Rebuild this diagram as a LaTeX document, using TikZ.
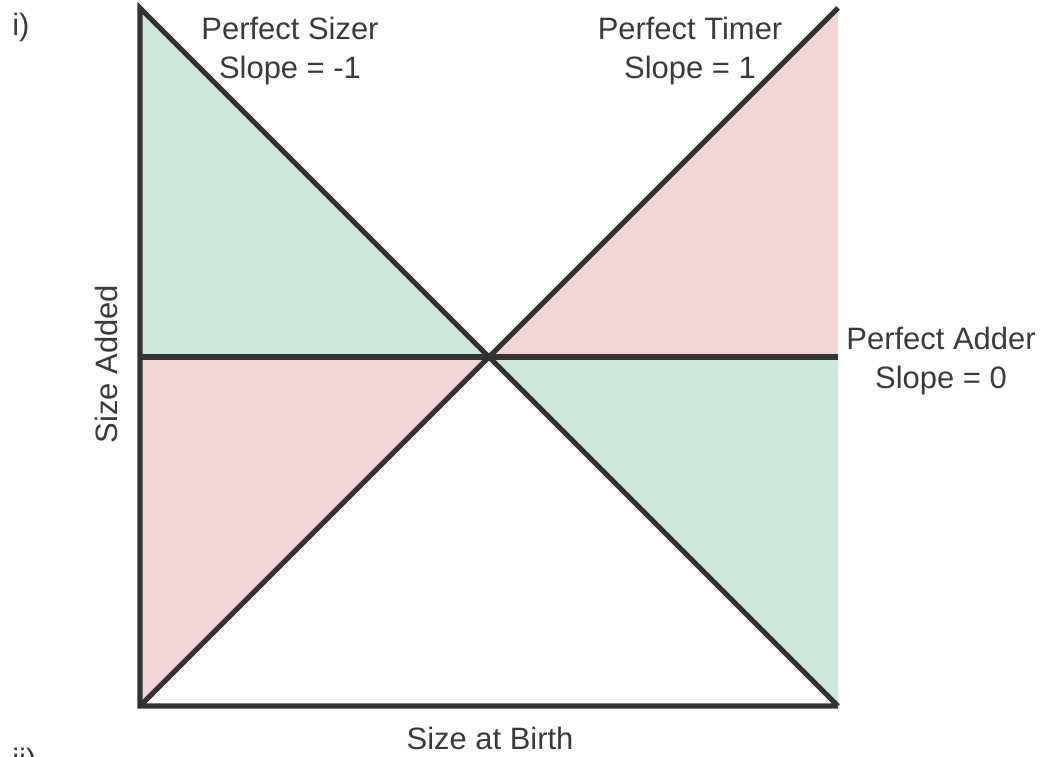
\documentclass[tikz,border=0pt]{standalone}
\usepackage{fontspec}
\setmainfont{Liberation Sans}
\usepackage{xcolor}
\definecolor{greenZone}{HTML}{CDE8DA}
\definecolor{pinkZone}{HTML}{F2D4D7}
\definecolor{darkLine}{HTML}{333333}
\definecolor{darkText}{HTML}{3A3A3A}
\usetikzlibrary{calc}

\begin{document}
\begin{tikzpicture}[x=0.025cm,y=-0.025cm,
 lbl/.style={font=\fontsize{22}{28.4}\selectfont,text=darkText,align=center,inner sep=0pt},
 axisline/.style={draw=darkLine,line width=3.6pt,line join=miter},
 modelline/.style={draw=darkLine,line width=3.6pt}]
 \useasboundingbox (0,0) rectangle (1049,756);
 % corners of the plot area
 \coordinate (tl) at (140,8);
 \coordinate (bl) at (140,706);
 \coordinate (tr) at (838,8);
 \coordinate (br) at (838,706);
 \coordinate (ml) at (140,357);
 \coordinate (mr) at (838,357);
 \coordinate (mid) at (488,357);
 % shaded zones
 \fill[greenZone] (tl)--(mid)--(ml)--cycle;
 \fill[pinkZone] (mid)--(tr)--(mr)--cycle;
 \fill[pinkZone] (ml)--(mid)--(bl)--cycle;
 \fill[greenZone] (mid)--(mr)--(br)--cycle;
 % lines
 \draw[modelline] (bl)--(tr);
 \draw[modelline] (ml)--(mr);
 \draw[axisline] (br)--(tl)--(bl)--(br);
 % labels
 \node[lbl] (sizer) at (290,51) {Perfect Sizer\\Slope = -1};
 \node[lbl] (timer) at (690,51) {Perfect Timer\\Slope = 1};
 \node[lbl] (adder) at (941,361) {Perfect Adder\\Slope = 0};
 \node[lbl] (xlab) at (490,738) {Size at Birth};
 \node[lbl,rotate=90] (ylab) at (106,364) {Size Added};
 \node[lbl,anchor=north west] (parti) at (12,13) {i)};
 \node[lbl,anchor=north west] (partii) at (12,748) {ii)};
\end{tikzpicture}
\end{document}
